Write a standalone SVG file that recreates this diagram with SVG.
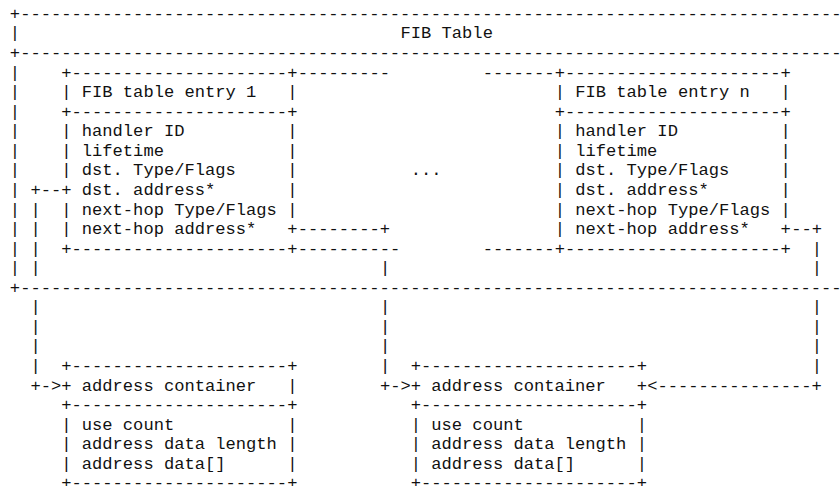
<svg xmlns="http://www.w3.org/2000/svg" width="840" height="486" viewBox="0 0 840 486">
<style>
text{font-family:"Liberation Mono","DejaVu Sans Mono",monospace;font-size:17.13px;fill:#111;white-space:pre}
</style>
<rect width="840" height="486" fill="#fff"/>
<g id="fib-table" xml:space="preserve">
<text x="9.86" y="18.80">+--------------------------------------------------------------------------------</text>
<text x="9.86" y="38.37">|</text>
<text x="400.50" y="38.37">FIB Table</text>
<text x="9.86" y="57.94">+--------------------------------------------------------------------------------</text>
<text x="9.86" y="77.51">|</text>
<text x="9.86" y="97.08">|</text>
<text x="9.86" y="116.65">|</text>
<text x="9.86" y="136.22">|</text>
<text x="9.86" y="155.79">|</text>
<text x="9.86" y="175.36">|</text>
<text x="9.86" y="194.93">|</text>
<text x="9.86" y="214.50">|</text>
<text x="9.86" y="234.07">|</text>
<text x="9.86" y="253.64">|</text>
<text x="9.86" y="273.21">|</text>
<text x="9.86" y="292.78">+--------------------------------------------------------------------------------</text>
</g>
<g id="entry-1" xml:space="preserve">
<text x="61.26" y="77.51">+---------------------+</text>
<text x="61.26" y="97.08">| FIB table entry 1   |</text>
<text x="61.26" y="116.65">+---------------------+</text>
<text x="61.26" y="136.22">| handler ID          |</text>
<text x="61.26" y="155.79">| lifetime            |</text>
<text x="61.26" y="175.36">| dst. Type/Flags     |</text>
<text x="61.26" y="194.93">+ dst. address*       |</text>
<text x="61.26" y="214.50">| next-hop Type/Flags |</text>
<text x="61.26" y="234.07">| next-hop address*   +</text>
<text x="61.26" y="253.64">+---------------------+</text>
</g>
<g id="ellipsis" xml:space="preserve">
<text x="410.78" y="175.36">...</text>
</g>
<g id="entry-n" xml:space="preserve">
<text x="554.70" y="77.51">+---------------------+</text>
<text x="554.70" y="97.08">| FIB table entry n   |</text>
<text x="554.70" y="116.65">+---------------------+</text>
<text x="554.70" y="136.22">| handler ID          |</text>
<text x="554.70" y="155.79">| lifetime            |</text>
<text x="554.70" y="175.36">| dst. Type/Flags     |</text>
<text x="554.70" y="194.93">| dst. address*       |</text>
<text x="554.70" y="214.50">| next-hop Type/Flags |</text>
<text x="554.70" y="234.07">| next-hop address*   +</text>
<text x="554.70" y="253.64">+---------------------+</text>
</g>
<g id="addr-container-1" xml:space="preserve">
<text x="61.26" y="371.06">+---------------------+</text>
<text x="61.26" y="390.63">+ address container   |</text>
<text x="61.26" y="410.20">+---------------------+</text>
<text x="61.26" y="429.77">| use count           |</text>
<text x="61.26" y="449.34">| address data length |</text>
<text x="61.26" y="468.91">| address data[]      |</text>
<text x="61.26" y="488.48">+---------------------+</text>
</g>
<g id="addr-container-2" xml:space="preserve">
<text x="410.78" y="371.06">+---------------------+</text>
<text x="410.78" y="390.63">+ address container   +</text>
<text x="410.78" y="410.20">+---------------------+</text>
<text x="410.78" y="429.77">| use count           |</text>
<text x="410.78" y="449.34">| address data length |</text>
<text x="410.78" y="468.91">| address data[]      |</text>
<text x="410.78" y="488.48">+---------------------+</text>
</g>
<g id="connectors" xml:space="preserve">
<text x="297.70" y="77.51">---------</text>
<text x="482.74" y="77.51">-------</text>
<text x="297.70" y="253.64">----------</text>
<text x="482.74" y="253.64">-------</text>
<text x="30.42" y="194.93">+--</text>
<text x="30.42" y="214.50">|</text>
<text x="30.42" y="234.07">|</text>
<text x="30.42" y="253.64">|</text>
<text x="30.42" y="273.21">|</text>
<text x="30.42" y="312.35">|</text>
<text x="30.42" y="331.92">|</text>
<text x="30.42" y="351.49">|</text>
<text x="30.42" y="371.06">|</text>
<text x="30.42" y="390.63">+-&gt;</text>
<text x="297.70" y="234.07">--------+</text>
<text x="379.94" y="273.21">|</text>
<text x="379.94" y="312.35">|</text>
<text x="379.94" y="331.92">|</text>
<text x="379.94" y="351.49">|</text>
<text x="379.94" y="371.06">|</text>
<text x="379.94" y="390.63">+-&gt;</text>
<text x="791.14" y="234.07">--+</text>
<text x="811.70" y="253.64">|</text>
<text x="811.70" y="273.21">|</text>
<text x="811.70" y="312.35">|</text>
<text x="811.70" y="331.92">|</text>
<text x="811.70" y="351.49">|</text>
<text x="811.70" y="371.06">|</text>
<text x="647.22" y="390.63">&lt;---------------+</text>
</g>
</svg>
